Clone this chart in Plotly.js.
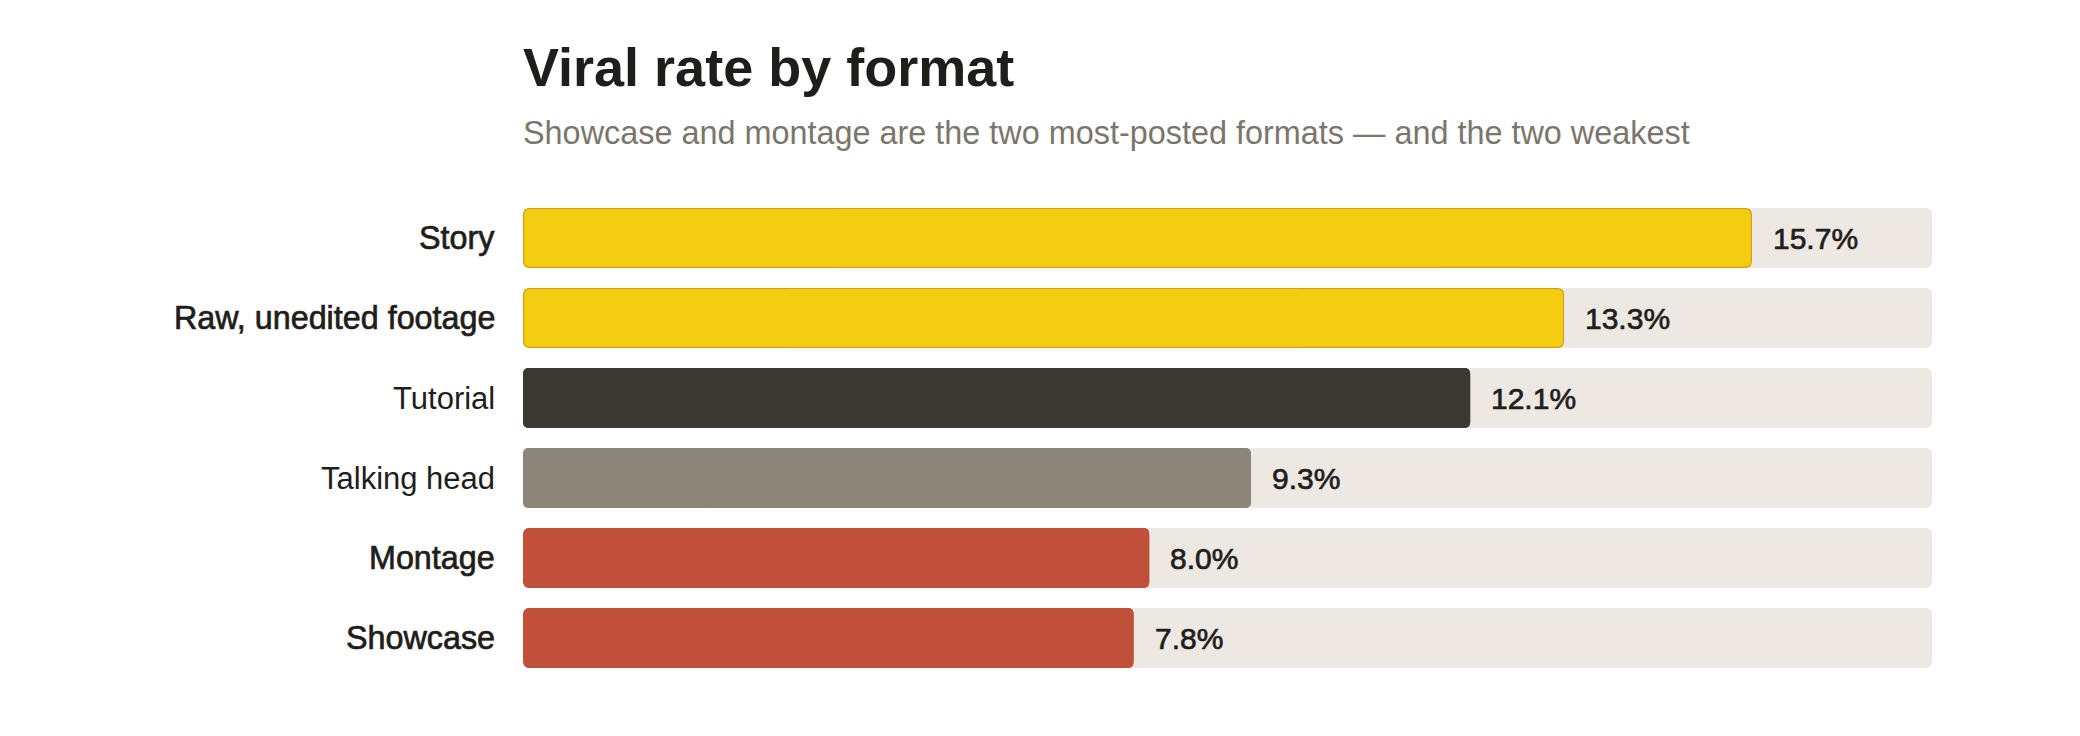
<!DOCTYPE html>
<html>
<head>
<meta charset="utf-8">
<script src="https://cdn.plot.ly/plotly-3.0.1.min.js"></script>
<style>
  html, body { margin: 0; padding: 0; background: #ffffff; }
  #chart { width: 2080px; height: 736px; }
</style>
</head>
<body>
<div id="chart"></div>
<script>
// ---- data ----
const categories = ["Story", "Raw, unedited footage", "Tutorial", "Talking head", "Montage", "Showcase"];
const viralRate = [15.7, 13.3, 12.1, 9.3, 8.0, 7.8];
const highlighted = [true, true, false, false, true, true];
const barColors = ["#F4CD12", "#F4CD12", "#3C3933", "#8C8579", "#C1503A", "#C1503A"];
const outlineColors = ["#CFA40F", "#CFA40F", "#3C3933", "#8C8579", "#C1503A", "#C1503A"];
const trackMax = 18;
const titleText = "Viral rate by format";
const subtitleText = "Showcase and montage are the two most-posted formats — and the two weakest";

// ---- styles ----
const FONT = "Liberation Sans, Arial, Helvetica, sans-serif";
const BAR_W = 0.75;          // category units (60px of an 80px row)
const RADIUS = 6;
const OUTLINE_W = 0.03;      // category units (~1.2px each side)
const OUTLINE_X = 0.016;     // data units (~1.2px)
const TRACK = "#EDE9E2";
const INK = "#1F1E1A";

const trackFull = categories.map(() => trackMax);

// Two overlapping pieces so both ends of each bar get rounded corners
function roundedBar(start, end, colorArr, width, radius) {
  const mk = (base, size) => ({
    type: "bar", orientation: "h", y: categories,
    base: base, x: size, width: width,
    marker: { color: colorArr, cornerradius: radius, line: { width: 0 } },
    hoverinfo: "skip", showlegend: false
  });
  const len = start.map((s, i) => end[i] - s);
  return [
    mk(start.map((s, i) => s + len[i] * 0.75), len.map(l => -l * 0.75)),
    mk(start.map((s, i) => s + len[i] * 0.25), len.map(l => l * 0.75))
  ];
}

const zeros = categories.map(() => 0);
const traces = [];
// background track
traces.push(...roundedBar(zeros, trackFull, categories.map(() => TRACK), BAR_W, RADIUS));
// outline layer
traces.push(...roundedBar(zeros, viralRate, outlineColors, BAR_W, RADIUS));
// fill layer, inset inside the outline
traces.push(...roundedBar(
  highlighted.map(h => h ? OUTLINE_X : 0),
  viralRate.map((v, i) => highlighted[i] && outlineColors[i] !== barColors[i] ? v - OUTLINE_X : v),
  barColors,
  outlineColors.map((c, i) => c !== barColors[i] ? BAR_W - OUTLINE_W : BAR_W),
  RADIUS - 1
));

const medium = (t, color) =>
  '<span style="stroke:' + color + ';stroke-width:0.7px;">' + t + '</span>';

const annotations = [];
categories.forEach((c, i) => {
  // value labels
  annotations.push({
    x: viralRate[i], y: c, xref: "x", yref: "y",
    text: medium(viralRate[i].toFixed(1) + "%", "#22201C"),
    showarrow: false, xanchor: "left", yanchor: "middle", xshift: 19,
    font: { family: FONT, size: 30, color: "#22201C" }
  });
  // category labels
  annotations.push({
    x: 0, y: c, xref: "paper", yref: "y",
    text: highlighted[i] ? medium(c, INK) : c,
    showarrow: false, xanchor: "right", yanchor: "middle", xshift: -26,
    font: { family: FONT, size: highlighted[i] ? 32.3 : 31, color: INK }
  });
});
// subtitle
annotations.push({
  x: 0, xref: "paper", y: 1 + (198 - 133) / 480, yref: "paper",
  text: subtitleText, showarrow: false, xanchor: "left", yanchor: "middle", xshift: -2,
  font: { family: FONT, size: 32.4, color: "#7B766C" }
});

const layout = {
  width: 2080, height: 736,
  paper_bgcolor: "#ffffff", plot_bgcolor: "#ffffff",
  margin: { l: 523, r: 148, t: 198, b: 58, pad: 0 },
  barmode: "overlay",
  title: {
    text: titleText,
    xref: "paper", x: 0, xanchor: "left",
    yref: "container", y: 1 - 67 / 736, yanchor: "middle",
    font: { family: FONT, size: 54, color: INK, weight: 700 }
  },
  xaxis: { range: [0, trackMax], showgrid: false, zeroline: false, showticklabels: false,
           showline: false, ticks: "", fixedrange: true },
  yaxis: { type: "category", categoryorder: "array", categoryarray: categories,
           autorange: "reversed", showgrid: false, zeroline: false, showticklabels: false,
           showline: false, ticks: "", fixedrange: true },
  annotations: annotations,
  showlegend: false
};

Plotly.newPlot("chart", traces, layout, { displayModeBar: false, staticPlot: true });
</script>
</body>
</html>
